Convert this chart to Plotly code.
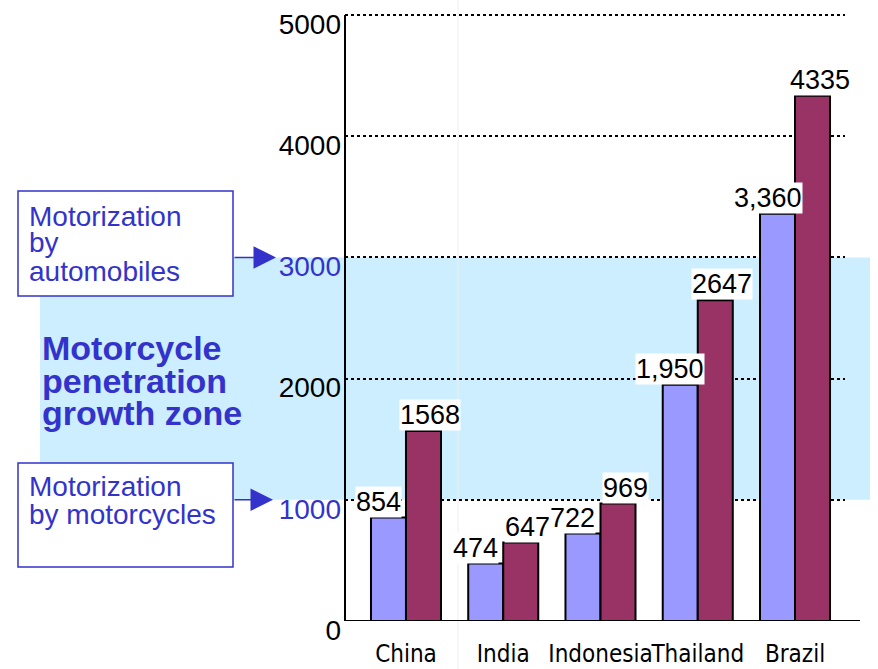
import plotly.graph_objects as go

# Vehicle data per country
countries = ["China", "India", "Indonesia", "Thailand", "Brazil"]
series_a = [854, 474, 722, 1950, 3360]
series_b = [1568, 647, 969, 2647, 4335]
labels_a = ["854", "474", "722", "1,950", "3,360"]
labels_b = ["1568", "647", "969", "2647", "4335"]

# Y axis ticks and the growth-zone band limits
y_ticks = [0, 1000, 2000, 3000, 4000, 5000]
y_tick_colors = ["black", "#3333cc", "black", "#3333cc", "black", "black"]
zone_low, zone_high = 1000, 3000
y_max = 5000

BLUE = "#3333cc"
FONT = "Liberation Sans, Arial, sans-serif"
NARROW = "DejaVu Sans Condensed, Liberation Sans Narrow, Arial Narrow, sans-serif"

L, R, T, B = 345, 33, 9, 39
W, H = 878, 669
PW, PH = W - L - R, H - T - B
Y_TOP = 5050
LABEL_DROP = 9  # tick labels sit a little below their gridlines
DROP = LABEL_DROP / PH


def px_x(px):
    return (px - L) / PW


def px_y(py):
    return (H - B - py) / PH


fig = go.Figure()
fig.add_trace(go.Bar(x=list(range(len(countries))), y=series_a,
                     marker=dict(color="#9999ff", line=dict(color="black", width=2)),
                     hoverinfo="skip"))
fig.add_trace(go.Bar(x=list(range(len(countries))), y=series_b,
                     marker=dict(color="#993366", line=dict(color="black", width=2)),
                     hoverinfo="skip"))
# carrier for the label-only value axis
fig.add_trace(go.Scatter(x=[None], y=[None], yaxis="y2", showlegend=False,
                         hoverinfo="skip"))

half = 0.18
annotations = []
for i, (va, vb, ta, tb) in enumerate(zip(series_a, series_b, labels_a, labels_b)):
    annotations.append(dict(x=i - half, y=va, xref="x", yref="y", text=ta,
                            showarrow=False, yanchor="bottom", xshift=-10,
                            bgcolor="white", borderpad=0,
                            font=dict(family=FONT, size=27, color="black")))
    annotations.append(dict(x=i + half, y=vb, xref="x", yref="y", text=tb,
                            showarrow=False, yanchor="bottom", xshift=7,
                            bgcolor="white", borderpad=0,
                            font=dict(family=FONT, size=27, color="black")))

# Side annotations: boxes' text, zone title, arrows
box_lines = [("Motorization", 216), ("by", 242), ("automobiles", 271),
             ("Motorization", 486.5), ("by motorcycles", 514.5)]
for txt, py in box_lines:
    annotations.append(dict(x=px_x(27), y=px_y(py), xref="paper", yref="paper",
                            text=txt, showarrow=False, xanchor="left", yanchor="middle",
                            font=dict(family=FONT, size=28, color=BLUE)))

zone_lines = [("Motorcycle", 348), ("penetration", 381), ("growth zone", 413)]
for txt, py in zone_lines:
    annotations.append(dict(x=px_x(40), y=px_y(py), xref="paper", yref="paper",
                            text="<b>%s</b>" % txt, showarrow=False, xanchor="left",
                            yanchor="middle",
                            font=dict(family=FONT, size=34, color=BLUE)))

for val, tip in [(zone_high, 276), (zone_low, 273)]:
    annotations.append(dict(x=px_x(tip), y=val, xref="paper", yref="y", text="",
                            showarrow=True, ax=-(tip - 233), ay=0, axref="pixel",
                            arrowhead=2, arrowsize=3, arrowwidth=1.5,
                            arrowcolor=BLUE))

shapes = [
    # growth-zone band
    dict(type="rect", xref="paper", yref="y", x0=px_x(40), x1=px_x(870),
         y0=zone_low, y1=zone_high, fillcolor="#cceeff", line=dict(width=0),
         layer="below"),
    # faint vertical guide
    dict(type="line", xref="paper", yref="paper", x0=px_x(458), x1=px_x(458),
         y0=px_y(669), y1=px_y(0), line=dict(color="#eeeeee", width=1),
         layer="below"),
    # value axis line, 0 to the top tick
    dict(type="line", xref="paper", yref="y", x0=0, x1=0, y0=0, y1=y_max,
         line=dict(color="black", width=2)),
    # baseline
    dict(type="line", xref="paper", yref="y", x0=0, x1=px_x(860), y0=0, y1=0,
         line=dict(color="black", width=2)),
    # boxes
    dict(type="rect", xref="paper", yref="paper", x0=px_x(18), x1=px_x(233),
         y0=px_y(296), y1=px_y(191), fillcolor="white",
         line=dict(color=BLUE, width=1.5)),
    dict(type="rect", xref="paper", yref="paper", x0=px_x(18), x1=px_x(233),
         y0=px_y(567), y1=px_y(463), fillcolor="white",
         line=dict(color=BLUE, width=1.5)),
]

tick_text = ['<span style="color:%s">%d</span>' % (c, v) for v, c in zip(y_ticks, y_tick_colors)]

fig.update_layout(
    width=W, height=H,
    margin=dict(l=L, r=R, t=T, b=B, pad=0, autoexpand=False),
    paper_bgcolor="white", plot_bgcolor="rgba(0,0,0,0)",
    showlegend=False,
    barmode="group", bargap=0.28, bargroupgap=0,
    font=dict(family=FONT, color="black"),
    xaxis=dict(range=[-0.627, 4.514], tickmode="array",
               tickvals=list(range(len(countries))), ticktext=countries,
               showgrid=False, zeroline=False, showline=False, ticks="",
               tickangle=0, automargin=False,
               tickfont=dict(family=NARROW, size=24, color="black"),
               ticklabelstandoff=16, fixedrange=True),
    yaxis=dict(domain=[DROP, 1], range=[0, Y_TOP], tickmode="array",
               tickvals=y_ticks, showticklabels=False, showgrid=True,
               gridcolor="black", griddash="dot", gridwidth=1.5,
               zeroline=False, automargin=False, showline=False, ticks="",
               fixedrange=True),
    yaxis2=dict(domain=[0, 1 - DROP], range=[0, Y_TOP], anchor="x",
                tickmode="array", tickvals=y_ticks, ticktext=tick_text,
                showgrid=False, zeroline=False, showline=False, ticks="",
                automargin=False, ticklabelstandoff=3,
                tickfont=dict(family=FONT, size=28, color="black"),
                fixedrange=True),
    annotations=annotations,
    shapes=shapes,
)

fig.write_html("out.html")
